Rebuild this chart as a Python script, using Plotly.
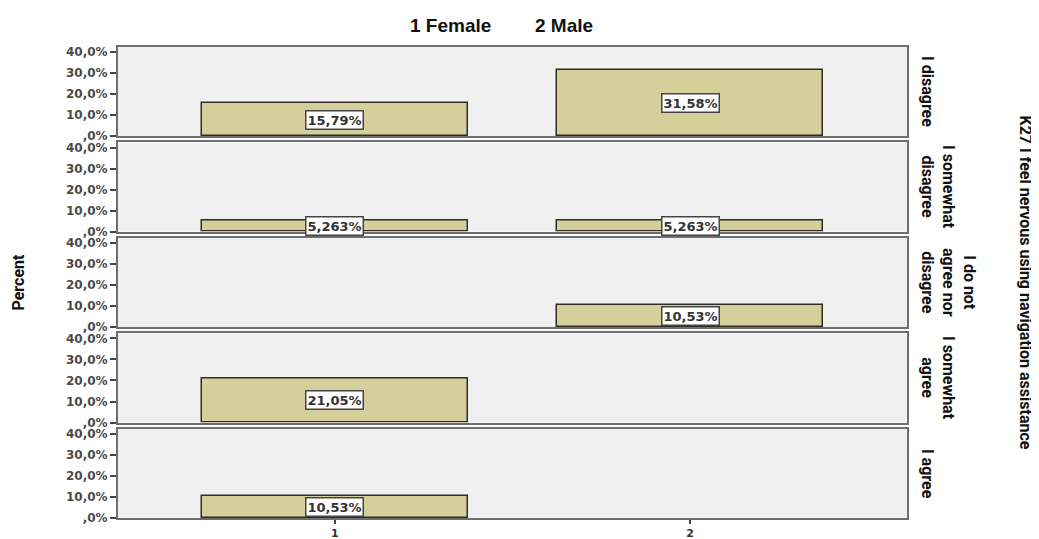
import plotly.graph_objects as go
from plotly.subplots import make_subplots

categories = ["1", "2"]
rows = ["I disagree", "I somewhat<br>disagree", "I do not<br>agree nor<br>disagree", "I somewhat<br>agree", "I agree"]
female = [15.79, 5.263, 0, 21.05, 10.53]
male = [31.58, 5.263, 10.53, 0, 0]
female_lbl = ["15,79%", "5,263%", "", "21,05%", "10,53%"]
male_lbl = ["31,58%", "5,263%", "10,53%", "", ""]
ytick_vals = [0, 10, 20, 30, 40]
ytick_text = [",0%", "10,0%", "20,0%", "30,0%", "40,0%"]

W, H = 1031, 531
L, R, T, B = 110, 132, 39, 21

fig = make_subplots(rows=5, cols=1, shared_xaxes=True, vertical_spacing=0.0135)

bar_col = "#d5cf9b"
side_font = "Roboto, Liberation Sans Narrow, DejaVu Sans Condensed"
for i in range(5):
    vals = [female[i], male[i]]
    lbls = [female_lbl[i], male_lbl[i]]
    yv = [v if v else None for v in vals]
    fig.add_trace(go.Bar(x=[1, 2], y=yv, width=0.75,
                         marker=dict(color=bar_col, line=dict(color="#2e2e22", width=1.5)),
                         showlegend=False, hoverinfo="skip"), row=i + 1, col=1)
    sfx = str(i + 1) if i else ""
    for xv, v, t in zip([1, 2], vals, lbls):
        if t:
            fig.add_annotation(x=xv, y=v / 2, text=t, showarrow=False, xref="x" + sfx, yref="y" + sfx,
                               bgcolor="white", bordercolor="#444", borderwidth=1.5, borderpad=1,
                               font=dict(family="DejaVu Sans", size=13, color="#333", weight="bold"))
    fig.update_yaxes(row=i + 1, col=1, range=[0, 42.4], tickvals=ytick_vals, ticktext=ytick_text,
                     ticks="outside", ticklen=6, tickwidth=2, tickcolor="#444", automargin=False,
                     showline=True, linecolor="#6e6e6e", linewidth=2, mirror=True, showgrid=False, zeroline=False,
                     tickfont=dict(family="DejaVu Sans", size=12, color="#4a4a4a", weight="bold"))
    fig.update_xaxes(row=i + 1, col=1, range=[0.39, 2.61], showline=True, linecolor="#6e6e6e", linewidth=2,
                     mirror=True, automargin=False,
                     showgrid=False, zeroline=False, tickvals=[1, 2], ticktext=categories,
                     ticks="outside" if i == 4 else "", ticklen=4, tickwidth=2, tickcolor="#444",
                     showticklabels=(i == 4),
                     tickfont=dict(family="DejaVu Sans", size=11, color="#333", weight="bold"))
    dom = fig.layout["yaxis" + sfx].domain
    fig.add_annotation(x=1.0, xref="paper", xanchor="left", xshift=9, y=(dom[0] + dom[1]) / 2, yref="paper",
                       yanchor="middle", text=rows[i], textangle=90, showarrow=False,
                       font=dict(family=side_font, size=16, color="#111", weight="bold"))

fig.add_annotation(x=1.0, xref="paper", xanchor="center", xshift=118, y=0.5, yref="paper", yanchor="middle",
                   text="K27 I feel nervous using navigation assistance", textangle=90, showarrow=False,
                   font=dict(family=side_font, size=16, color="#111", weight="bold"))
fig.add_annotation(x=0, xref="paper", xanchor="center", xshift=-100, y=0.5, yref="paper", yanchor="middle",
                   text="Percent", textangle=-90, showarrow=False,
                   font=dict(family=side_font, size=16, color="#111", weight="bold"))
fig.add_annotation(x=(442 - L) / (W - L - R), xref="paper", xanchor="center", y=1, yref="paper",
                   yanchor="middle", yshift=22, text="1 Female", showarrow=False,
                   font=dict(family="Liberation Sans", size=19, color="#111", weight="bold"))
fig.add_annotation(x=(556 - L) / (W - L - R), xref="paper", xanchor="center", y=1, yref="paper",
                   yanchor="middle", yshift=22, text="2 Male", showarrow=False,
                   font=dict(family="Liberation Sans", size=19, color="#111", weight="bold"))

fig.update_layout(width=W, height=H, margin=dict(l=L, r=R, t=T, b=B),
                  plot_bgcolor="#f0f0f0", paper_bgcolor="white", bargap=0)
fig.write_html("out.html")
